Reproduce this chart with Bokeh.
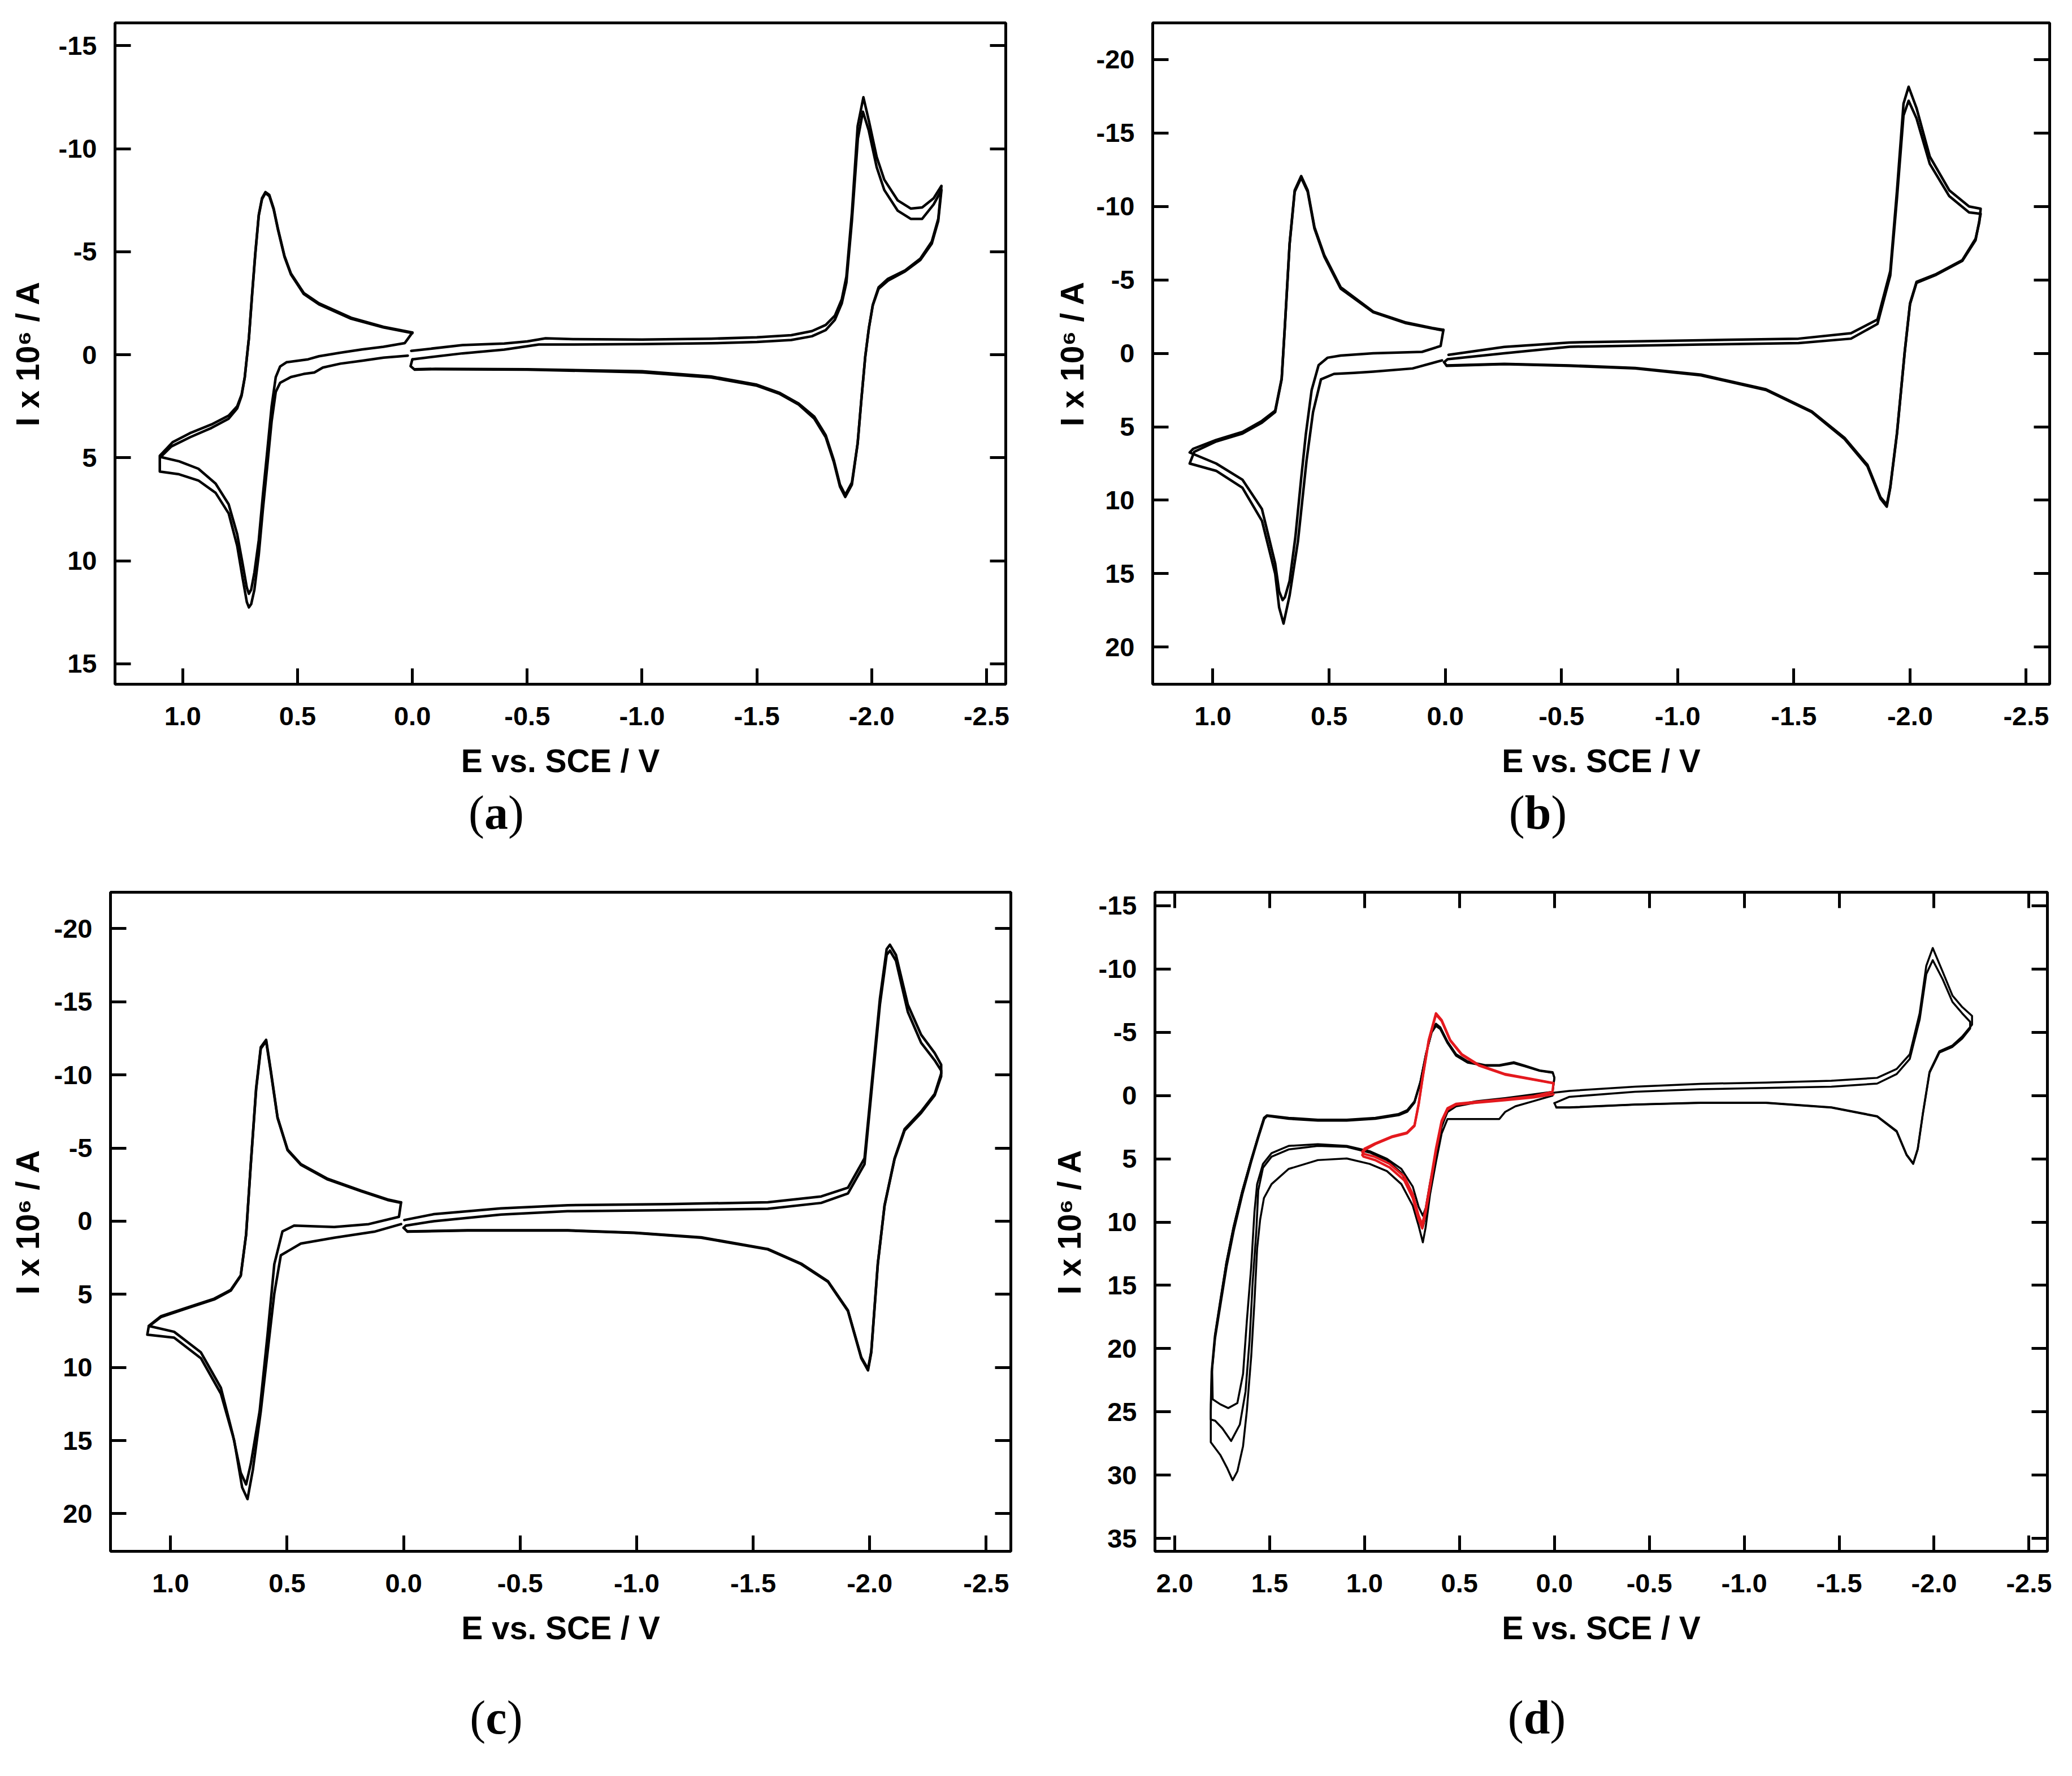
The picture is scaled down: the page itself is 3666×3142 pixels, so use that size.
from bokeh.plotting import figure
from bokeh.models import Range1d, LinearAxis, FixedTicker, NumeralTickFormatter, Div
from bokeh.layouts import column, row
from bokeh.embed import file_html
from bokeh.resources import INLINE

# ---------------- data: (E / V vs SCE, I x 10^6 / A) ----------------
# panel (a)
a_left_c1 = [(0.02, 0.04), (0.126, 0.14), (0.22, 0.29), (0.314, 0.43), (0.39, 0.62), (0.427, 0.86), (0.473, 0.93),
             (0.529, 1.08), (0.576, 1.36), (0.595, 1.8), (0.613, 3.23), (0.632, 5.4), (0.651, 7.5), (0.669, 9.7),
             (0.688, 11.4), (0.702, 12.1), (0.712, 12.26), (0.721, 12.0), (0.74, 10.8), (0.763, 9.27), (0.8, 7.7),
             (0.857, 6.7), (0.932, 6.1), (1.016, 5.8), (1.1, 5.67), (1.1, 4.9), (1.044, 4.24), (0.968, 3.8),
             (0.875, 3.38), (0.8, 2.95), (0.763, 2.5), (0.744, 1.94), (0.73, 1.08), (0.712, -0.8), (0.698, -2.95),
             (0.684, -4.96), (0.669, -6.8), (0.655, -7.6), (0.64, -7.9), (0.623, -7.76), (0.604, -7.1), (0.585, -6.1),
             (0.557, -4.8), (0.529, -3.95), (0.473, -3.0), (0.407, -2.5), (0.267, -1.8), (0.126, -1.36), (0.0, -1.08)]
a_left_c2 = [(0.0, -1.08), (0.033, -0.57), (0.126, -0.39), (0.22, -0.26), (0.314, -0.1), (0.407, 0.07), (0.454, 0.22),
             (0.5, 0.29), (0.548, 0.36), (0.576, 0.57), (0.595, 1.08), (0.613, 2.5), (0.632, 4.67), (0.651, 6.8),
             (0.669, 9.0), (0.688, 10.56), (0.702, 11.4), (0.712, 11.6), (0.721, 11.3), (0.74, 10.1), (0.763, 8.7),
             (0.8, 7.26), (0.857, 6.25), (0.932, 5.53), (1.016, 5.17), (1.096, 4.96), (1.05, 4.45), (0.968, 4.0),
             (0.875, 3.55), (0.8, 3.1), (0.763, 2.6), (0.744, 2.0), (0.73, 1.1), (0.712, -0.8), (0.698, -2.9),
             (0.684, -4.9), (0.669, -6.75), (0.655, -7.55), (0.64, -7.85), (0.623, -7.7), (0.604, -7.05),
             (0.585, -6.05), (0.557, -4.75), (0.529, -3.9), (0.473, -2.95), (0.407, -2.45), (0.267, -1.75),
             (0.126, -1.33), (0.0, -1.05)]
a_right_c1 = [(0.005, -0.19), (-0.218, -0.47), (-0.4, -0.55), (-0.5, -0.65), (-0.58, -0.8), (-0.7, -0.76),
              (-1.0, -0.74), (-1.3, -0.78), (-1.5, -0.85), (-1.65, -0.95), (-1.74, -1.15), (-1.8, -1.45),
              (-1.84, -1.9), (-1.87, -2.7), (-1.89, -3.8), (-1.914, -6.9), (-1.939, -11.1), (-1.964, -12.5),
              (-1.989, -11.3), (-2.022, -9.6), (-2.055, -8.5), (-2.113, -7.5), (-2.17, -7.1), (-2.22, -7.15),
              (-2.27, -7.6), (-2.304, -8.2), (-2.29, -6.6), (-2.262, -5.5), (-2.212, -4.67), (-2.146, -4.1),
              (-2.071, -3.69), (-2.03, -3.27), (-2.005, -2.43), (-1.988, -1.3), (-1.972, 0.1), (-1.955, 2.2),
              (-1.939, 4.3), (-1.914, 6.3), (-1.885, 6.9), (-1.862, 6.4), (-1.835, 5.2), (-1.8, 4.0), (-1.75, 3.1),
              (-1.68, 2.4), (-1.6, 1.9), (-1.5, 1.5), (-1.3, 1.1), (-1.0, 0.85), (-0.5, 0.72), (-0.1, 0.7),
              (-0.01, 0.72), (0.008, 0.55), (0.0, 0.22)]
a_right_c2 = [(0.0, 0.22), (-0.218, -0.07), (-0.4, -0.25), (-0.55, -0.5), (-0.7, -0.5), (-1.0, -0.52),
              (-1.3, -0.56), (-1.5, -0.62), (-1.65, -0.72), (-1.74, -0.9), (-1.8, -1.2), (-1.84, -1.7),
              (-1.87, -2.5), (-1.89, -3.5), (-1.914, -6.5), (-1.94, -10.5), (-1.962, -11.8), (-1.987, -10.9),
              (-2.022, -9.1), (-2.055, -8.0), (-2.113, -7.0), (-2.17, -6.6), (-2.22, -6.6), (-2.27, -7.3),
              (-2.304, -8.0), (-2.29, -6.5), (-2.262, -5.4), (-2.212, -4.6), (-2.146, -4.05), (-2.071, -3.6),
              (-2.03, -3.2), (-2.005, -2.4), (-1.988, -1.3), (-1.972, 0.1), (-1.955, 2.2), (-1.939, 4.3),
              (-1.914, 6.2), (-1.885, 6.8), (-1.862, 6.3), (-1.835, 5.1), (-1.8, 3.9), (-1.75, 3.0), (-1.68, 2.35),
              (-1.6, 1.85), (-1.5, 1.45), (-1.3, 1.05), (-1.0, 0.8), (-0.5, 0.7), (-0.1, 0.68), (-0.01, 0.7)]

# panel (b)
b_left_c1 = [(0.014, 0.48), (0.141, 1.03), (0.31, 1.25), (0.394, 1.33), (0.479, 1.4), (0.535, 1.77), (0.569, 4.0),
             (0.597, 7.3), (0.634, 12.8), (0.67, 16.5), (0.696, 18.4), (0.715, 17.3), (0.732, 15.0), (0.789, 11.4),
             (0.873, 9.15), (0.986, 8.0), (1.1, 7.5), (1.08, 6.7), (0.986, 6.0), (0.873, 5.46), (0.789, 4.72),
             (0.732, 4.0), (0.704, 1.77), (0.69, -1.92), (0.67, -7.45), (0.648, -11.1), (0.62, -12.07),
             (0.592, -11.1), (0.563, -8.6), (0.521, -6.7), (0.45, -4.5), (0.31, -2.84), (0.169, -2.1),
             (0.056, -1.73), (0.008, -1.6)]
b_left_c2 = [(0.008, -1.6), (0.02, -0.5), (0.1, -0.1), (0.31, 0.0), (0.45, 0.15), (0.507, 0.3), (0.545, 0.8),
             (0.575, 2.5), (0.6, 5.5), (0.62, 8.5), (0.645, 12.5), (0.67, 15.5), (0.69, 16.6), (0.70, 16.8),
             (0.715, 16.2), (0.732, 14.3), (0.789, 10.6), (0.873, 8.6), (0.986, 7.5), (1.1, 6.75), (1.085, 6.5),
             (0.986, 5.9), (0.873, 5.35), (0.789, 4.6), (0.732, 3.9), (0.704, 1.7), (0.69, -1.9), (0.67, -7.4),
             (0.648, -11.0), (0.62, -11.95), (0.592, -11.0), (0.563, -8.5), (0.521, -6.6), (0.45, -4.4),
             (0.31, -2.8), (0.169, -2.05), (0.056, -1.7), (0.008, -1.55)]
b_right_c1 = [(-0.014, 0.1), (-0.254, -0.44), (-0.535, -0.74), (-1.1, -0.89), (-1.52, -1.0), (-1.746, -1.37),
              (-1.86, -2.3), (-1.915, -5.6), (-1.944, -11.1), (-1.972, -17.0), (-1.994, -18.15), (-2.028, -16.7),
              (-2.085, -13.4), (-2.169, -11.1), (-2.254, -10.0), (-2.304, -9.85), (-2.298, -8.9), (-2.282, -7.8),
              (-2.225, -6.35), (-2.113, -5.4), (-2.028, -4.87), (-2.0, -3.4), (-1.977, -0.07), (-1.944, 5.46),
              (-1.915, 9.15), (-1.9, 10.44), (-1.873, 9.9), (-1.817, 7.7), (-1.718, 5.83), (-1.577, 4.0),
              (-1.38, 2.5), (-1.1, 1.5), (-0.817, 1.03), (-0.535, 0.85), (-0.254, 0.74), (-0.006, 0.85),
              (0.005, 0.6)]
b_right_c2 = [(0.005, 0.6), (-0.01, 0.4), (-0.254, 0.0), (-0.535, -0.45), (-1.1, -0.6), (-1.52, -0.7),
              (-1.746, -1.0), (-1.86, -2.0), (-1.915, -5.3), (-1.944, -10.6), (-1.972, -16.2), (-1.994, -17.2),
              (-2.028, -16.0), (-2.085, -12.9), (-2.169, -10.7), (-2.254, -9.6), (-2.304, -9.5), (-2.282, -7.7),
              (-2.225, -6.3), (-2.113, -5.35), (-2.028, -4.8), (-2.0, -3.35), (-1.977, -0.05), (-1.944, 5.4),
              (-1.915, 9.1), (-1.9, 10.3), (-1.873, 9.8), (-1.817, 7.6), (-1.718, 5.75), (-1.577, 3.95),
              (-1.38, 2.45), (-1.1, 1.45), (-0.817, 1.0), (-0.535, 0.82), (-0.254, 0.72), (-0.006, 0.82)]

# panel (c)
c_left_c1 = [(0.011, 0.2), (0.126, 0.72), (0.298, 1.13), (0.441, 1.53), (0.527, 2.33), (0.555, 4.95),
             (0.584, 8.97), (0.613, 13.0), (0.647, 17.0), (0.67, 19.0), (0.693, 18.2), (0.727, 15.0),
             (0.784, 11.8), (0.87, 9.37), (0.985, 7.96), (1.1, 7.76), (1.094, 7.2), (1.042, 6.56), (0.928, 5.95),
             (0.813, 5.35), (0.742, 4.75), (0.699, 3.74), (0.676, 0.93), (0.656, -3.9), (0.633, -9.1),
             (0.613, -11.9), (0.59, -12.4), (0.57, -10.3), (0.541, -7.1), (0.498, -4.9), (0.441, -3.9),
             (0.326, -2.9), (0.183, -2.09), (0.069, -1.49), (0.011, -1.29)]
c_left_c2 = [(0.011, -1.29), (0.02, -0.3), (0.15, 0.2), (0.298, 0.4), (0.47, 0.3), (0.52, 0.7), (0.555, 2.94),
             (0.584, 7.76), (0.618, 13.0), (0.656, 16.6), (0.676, 18.0), (0.699, 17.2), (0.733, 14.6),
             (0.784, 11.4), (0.87, 8.97), (0.985, 7.56), (1.094, 7.16), (1.042, 6.5), (0.928, 5.9), (0.813, 5.3),
             (0.742, 4.7), (0.699, 3.7), (0.676, 0.9), (0.656, -3.85), (0.633, -9.0), (0.613, -11.8),
             (0.59, -12.3), (0.57, -10.2), (0.541, -7.05), (0.498, -4.85), (0.441, -3.85), (0.326, -2.85),
             (0.183, -2.05), (0.069, -1.45), (0.011, -1.25)]
c_right_c1 = [(-0.003, -0.08), (-0.13, -0.48), (-0.418, -0.88), (-0.704, -1.09), (-1.134, -1.17),
              (-1.563, -1.29), (-1.792, -1.69), (-1.907, -2.29), (-1.978, -4.3), (-2.007, -9.1), (-2.044, -15.2),
              (-2.073, -18.6), (-2.087, -18.9), (-2.113, -18.2), (-2.164, -14.8), (-2.221, -12.75),
              (-2.279, -11.5), (-2.307, -10.7), (-2.307, -10.1), (-2.279, -8.7), (-2.221, -7.5), (-2.15, -6.3),
              (-2.107, -4.3), (-2.064, -1.09), (-2.035, 2.94), (-2.007, 8.97), (-1.993, 10.2), (-1.964, 9.37),
              (-1.907, 6.15), (-1.821, 4.14), (-1.706, 2.94), (-1.563, 1.93), (-1.277, 1.13), (-0.99, 0.8),
              (-0.704, 0.64), (-0.275, 0.64), (-0.017, 0.72), (0.0, 0.45)]
c_right_c2 = [(0.0, 0.45), (-0.01, 0.3), (-0.13, 0.0), (-0.418, -0.45), (-0.704, -0.68), (-1.134, -0.75),
              (-1.563, -0.85), (-1.792, -1.25), (-1.907, -1.9), (-1.978, -3.9), (-2.007, -8.7), (-2.044, -14.8),
              (-2.073, -18.2), (-2.087, -18.5), (-2.113, -17.8), (-2.164, -14.3), (-2.221, -12.2), (-2.279, -11.0),
              (-2.307, -10.3), (-2.307, -9.9), (-2.279, -8.6), (-2.221, -7.4), (-2.15, -6.2), (-2.107, -4.25),
              (-2.064, -1.05), (-2.035, 2.9), (-2.007, 8.9), (-1.993, 10.1), (-1.964, 9.3), (-1.907, 6.1),
              (-1.821, 4.1), (-1.706, 2.9), (-1.563, 1.9), (-1.277, 1.1), (-0.99, 0.78), (-0.704, 0.62),
              (-0.275, 0.62), (-0.017, 0.7)]

# panel (d), black cycles
d_left_c1 = [(0.01, 0.0), (0.108, 0.43), (0.206, 0.85), (0.26, 1.3), (0.29, 1.85), (0.45, 1.85), (0.563, 1.85),
             (0.594, 3.0), (0.624, 5.26), (0.655, 7.8), (0.678, 10.4), (0.693, 11.6), (0.715, 10.3), (0.746, 8.7),
             (0.806, 7.0), (0.882, 5.97), (0.973, 5.4), (1.094, 4.97), (1.246, 5.1), (1.40, 5.8), (1.49, 7.0),
             (1.53, 8.1), (1.55, 9.8), (1.566, 12.1), (1.58, 16.3), (1.597, 20.6), (1.62, 24.9), (1.64, 27.7),
             (1.67, 29.7), (1.695, 30.4), (1.725, 29.4), (1.76, 28.4), (1.81, 27.4), (1.81, 25.0), (1.805, 22.0),
             (1.787, 19.2), (1.756, 16.3), (1.726, 13.5), (1.688, 10.65), (1.643, 7.8), (1.597, 5.26),
             (1.558, 3.27), (1.528, 1.85), (1.513, 1.62), (1.40, 1.85), (1.246, 1.99), (1.094, 1.99),
             (0.943, 1.85), (0.82, 1.56), (0.775, 1.28), (0.737, 0.57), (0.706, -1.0), (0.676, -3.27),
             (0.646, -5.1), (0.624, -5.68), (0.601, -5.4), (0.563, -4.26), (0.518, -3.27), (0.457, -2.7),
             (0.366, -2.41), (0.29, -2.41), (0.214, -2.64), (0.153, -2.36), (0.077, -1.99), (0.009, -1.85),
             (0.0, -1.42)]
d_left_c2 = [(0.0, -1.42), (0.01, -0.3), (0.108, -0.1), (0.26, 0.2), (0.412, 0.45), (0.518, 0.75), (0.563, 1.2),
             (0.594, 2.5), (0.624, 4.9), (0.655, 7.3), (0.678, 9.5), (0.693, 10.4), (0.715, 9.6), (0.746, 7.8),
             (0.806, 6.1), (0.882, 5.1), (0.973, 4.5), (1.094, 4.06), (1.246, 3.98), (1.40, 4.26), (1.49, 4.83),
             (1.535, 5.7), (1.56, 7.5), (1.57, 10.65), (1.59, 14.9), (1.605, 19.2), (1.627, 23.4), (1.657, 26.0),
             (1.703, 27.3), (1.749, 26.3), (1.787, 25.7), (1.81, 25.6), (1.81, 24.4), (1.806, 21.8),
             (1.789, 19.0), (1.759, 16.1), (1.729, 13.3), (1.692, 10.5), (1.647, 7.7), (1.60, 5.2), (1.56, 3.2),
             (1.53, 1.8), (1.515, 1.6), (1.40, 1.8), (1.246, 1.95), (1.094, 1.95), (0.943, 1.8), (0.82, 1.5),
             (0.775, 1.2), (0.737, 0.5), (0.706, -1.05), (0.676, -3.3), (0.646, -5.1), (0.624, -5.65),
             (0.601, -5.35), (0.563, -4.2), (0.518, -3.2), (0.457, -2.65), (0.366, -2.38), (0.29, -2.38),
             (0.214, -2.6), (0.153, -2.33), (0.077, -1.97), (0.009, -1.82), (0.0, -1.4)]
d_left_c3 = [(0.0, -1.4), (0.01, -0.2), (0.108, -0.05), (0.26, 0.3), (0.412, 0.55), (0.518, 0.85), (0.563, 1.3),
             (0.594, 2.4), (0.624, 4.6), (0.655, 6.9), (0.678, 8.9), (0.693, 9.5), (0.715, 8.8), (0.746, 7.2),
             (0.806, 5.8), (0.882, 5.0), (0.973, 4.4), (1.094, 3.98), (1.246, 3.84), (1.40, 3.98), (1.49, 4.55),
             (1.535, 5.4), (1.566, 7.0), (1.58, 9.2), (1.597, 13.5), (1.62, 17.8), (1.64, 22.0), (1.67, 24.3),
             (1.718, 24.7), (1.76, 24.4), (1.80, 24.0), (1.803, 21.6), (1.786, 18.8), (1.757, 16.0),
             (1.728, 13.2), (1.69, 10.4), (1.645, 7.6), (1.598, 5.1), (1.558, 3.1), (1.53, 1.75), (1.514, 1.55),
             (1.40, 1.75), (1.246, 1.9), (1.094, 1.9), (0.943, 1.75), (0.82, 1.45), (0.775, 1.15), (0.737, 0.45),
             (0.706, -1.1), (0.676, -3.35), (0.646, -5.0), (0.624, -5.5), (0.601, -5.25), (0.563, -4.15),
             (0.518, -3.15), (0.457, -2.6), (0.366, -2.35), (0.29, -2.35), (0.214, -2.55), (0.153, -2.3),
             (0.077, -1.95), (0.009, -1.8)]
d_right_c1 = [(0.0, -0.23), (-0.079, -0.37), (-0.424, -0.7), (-0.769, -0.93), (-1.114, -1.03), (-1.459, -1.17),
              (-1.7, -1.4), (-1.803, -2.1), (-1.872, -3.26), (-1.924, -6.5), (-1.959, -10.26), (-1.993, -11.66),
              (-2.045, -9.8), (-2.097, -7.9), (-2.148, -7.0), (-2.2, -6.3), (-2.2, -5.6), (-2.148, -4.66),
              (-2.097, -3.96), (-2.028, -3.5), (-1.976, -1.87), (-1.941, 1.4), (-1.914, 4.2), (-1.89, 5.36),
              (-1.855, 4.66), (-1.803, 2.8), (-1.7, 1.63), (-1.459, 0.93), (-1.114, 0.56), (-0.769, 0.56),
              (-0.424, 0.7), (-0.079, 0.93), (-0.01, 0.93), (0.0, 0.6)]
d_right_c2 = [(0.0, 0.6), (-0.079, 0.1), (-0.424, -0.3), (-0.769, -0.5), (-1.114, -0.6), (-1.459, -0.7),
              (-1.7, -0.95), (-1.803, -1.7), (-1.872, -2.9), (-1.924, -6.0), (-1.959, -9.6), (-1.993, -10.7),
              (-2.045, -9.2), (-2.097, -7.4), (-2.148, -6.5), (-2.19, -5.83), (-2.19, -5.3), (-2.148, -4.5),
              (-2.097, -3.85), (-2.028, -3.4), (-1.976, -1.8), (-1.941, 1.45), (-1.914, 4.25), (-1.89, 5.4),
              (-1.855, 4.7), (-1.803, 2.85), (-1.7, 1.66), (-1.459, 0.95), (-1.114, 0.58), (-0.769, 0.58),
              (-0.424, 0.72), (-0.079, 0.95), (-0.01, 0.95)]
# panel (d), red cycles (0 to +1.0 V only)
d_red_c1 = [(0.005, -0.1), (0.108, 0.14), (0.26, 0.37), (0.412, 0.57), (0.518, 0.71), (0.563, 1.1), (0.594, 2.13),
            (0.624, 4.4), (0.655, 7.24), (0.678, 9.23), (0.696, 10.5), (0.715, 9.8), (0.746, 8.1), (0.791, 6.7),
            (0.868, 5.68), (0.944, 5.1), (1.005, 4.83), (1.012, 4.7), (1.0, 4.3), (0.944, 3.84), (0.853, 3.27),
            (0.777, 2.98), (0.737, 2.4), (0.715, 0.7), (0.693, -1.56), (0.662, -4.4), (0.624, -6.5),
            (0.594, -5.97), (0.549, -4.4), (0.488, -3.27), (0.397, -2.41), (0.26, -1.7), (0.108, -1.28),
            (0.005, -0.99)]
d_red_c2 = [(0.005, -0.99), (0.01, -0.3), (0.108, 0.05), (0.26, 0.3), (0.412, 0.5), (0.518, 0.65), (0.563, 1.0),
            (0.594, 2.0), (0.624, 4.2), (0.655, 7.0), (0.678, 9.0), (0.696, 10.2), (0.715, 9.5), (0.746, 7.8),
            (0.791, 6.4), (0.868, 5.4), (0.944, 4.85), (1.005, 4.6), (1.012, 4.45), (1.0, 4.2), (0.944, 3.78),
            (0.853, 3.22), (0.777, 2.93), (0.737, 2.35), (0.715, 0.65), (0.693, -1.5), (0.662, -4.3),
            (0.624, -6.4), (0.594, -5.9), (0.549, -4.35), (0.488, -3.22), (0.397, -2.37), (0.26, -1.66),
            (0.108, -1.25), (0.005, -0.97)]

# axes
x_ticks_abc = [1.0, 0.5, 0.0, -0.5, -1.0, -1.5, -2.0, -2.5]
x_ticks_d = [2.0, 1.5, 1.0, 0.5, 0.0, -0.5, -1.0, -1.5, -2.0, -2.5]
y_ticks_a = [-15, -10, -5, 0, 5, 10, 15]
y_ticks_bc = [-20, -15, -10, -5, 0, 5, 10, 15, 20]
y_ticks_d = [-15, -10, -5, 0, 5, 10, 15, 20, 25, 30, 35]
x_label = "E vs. SCE / V"
y_label = "I x 10\u2076 / A"
panel_letters = ["a", "b", "c", "d"]

FONT = "Liberation Sans"
SERIF = "Liberation Serif"


def unzip(pts):
    return [p[0] for p in pts], [p[1] for p in pts]


def make_panel(w, h, bl, br, bt, bb, xr, yr, xt, yt, ylab_standoff, top_ticks):
    p = figure(width=w, height=h, x_range=Range1d(*xr), y_range=Range1d(*yr), title=None,
               output_backend="svg", toolbar_location=None,
               min_border_left=bl, min_border_right=br, min_border_top=bt, min_border_bottom=bb,
               x_axis_label=x_label, y_axis_label=y_label)
    p.grid.visible = False
    p.outline_line_color = "black"
    p.outline_line_width = 5
    p.background_fill_color = "white"
    p.border_fill_color = "white"
    xa, ya = p.xaxis[0], p.yaxis[0]
    xa.ticker = FixedTicker(ticks=xt)
    ya.ticker = FixedTicker(ticks=yt)
    xa.formatter = NumeralTickFormatter(format="0.0")
    ya.formatter = NumeralTickFormatter(format="0")
    for ax in (xa, ya):
        ax.axis_line_color = None
        ax.major_tick_in = 28
        ax.major_tick_out = 0
        ax.major_tick_line_width = 5
        ax.major_tick_line_color = "black"
        ax.minor_tick_line_color = None
        ax.major_label_text_font = FONT
        ax.major_label_text_font_style = "bold"
        ax.major_label_text_font_size = "47px"
        ax.major_label_text_color = "black"
        ax.axis_label_text_font = FONT
        ax.axis_label_text_font_style = "bold"
        ax.axis_label_text_font_size = "57px"
        ax.axis_label_text_color = "black"
    xa.major_label_standoff = 40
    xa.axis_label_standoff = 28
    ya.major_label_standoff = 32
    ya.axis_label_standoff = ylab_standoff
    sides = [("right", yt)]
    if top_ticks:
        sides.append(("above", xt))
    for side, tk in sides:
        ax = LinearAxis(ticker=FixedTicker(ticks=tk), axis_line_color=None, major_tick_in=28, major_tick_out=0,
                        major_tick_line_width=5, minor_tick_line_color=None, major_label_text_font_size="1px",
                        major_label_text_color=None, major_label_standoff=0)
        p.add_layout(ax, side)
    return p


def draw(p, curves, color, width):
    for pts in curves:
        xs, ys = unzip(pts)
        p.line(xs, ys, line_color=color, line_width=width, line_join="round", line_cap="round")


def letter_div(letter, w, h, cx, cy):
    html = ('<div style="position:relative;width:%dpx;height:%dpx;">'
            '<span style="position:absolute;left:%dpx;top:%dpx;transform:translate(-50%%,-50%%);'
            'font-family:\'%s\';font-size:84px;line-height:1;white-space:nowrap;color:black;">'
            '(<b>%s</b>)</span></div>') % (w, h, cx, cy, SERIF, letter)
    return Div(text=html, width=w, height=h, margin=0)


WL, WR = 1841, 1817
HT, HL1, HB, HL2 = 1400, 163, 1420, 151

pa = make_panel(WL, HT, 203, 62, 40, 190, (1.295, -2.584), (15.99, -16.11), x_ticks_abc, y_ticks_a, 20, False)
draw(pa, [a_left_c1, a_left_c2, a_right_c1, a_right_c2], "black", 4.5)

pb = make_panel(WR, HT, 198, 32, 40, 190, (1.259, -2.601), (22.53, -22.5), x_ticks_abc, y_ticks_bc, 8, False)
draw(pb, [b_left_c1, b_left_c2, b_right_c1, b_right_c2], "black", 4.5)

pc = make_panel(WL, HB, 195, 53, 8, 239, (1.258, -2.606), (22.57, -22.49), x_ticks_abc, y_ticks_bc, 12, False)
draw(pc, [c_left_c1, c_left_c2, c_right_c1, c_right_c2], "black", 4.5)

pd = make_panel(WR, HB, 202, 36, 15, 235, (2.104, -2.597), (36.02, -16.07), x_ticks_d, y_ticks_d, 17, True)
draw(pd, [d_left_c1, d_left_c2, d_left_c3, d_right_c1, d_right_c2], "black", 3.5)
draw(pd, [d_red_c1, d_red_c2], "#e4191e", 4.2)

la = letter_div(panel_letters[0], WL, HL1, 878, 38)
lb = letter_div(panel_letters[1], WR, HL1, 880, 38)
lc = letter_div(panel_letters[2], WL, HL2, 878, 56)
ld = letter_div(panel_letters[3], WR, HL2, 878, 56)

layout = column(row(pa, pb), row(la, lb), row(pc, pd), row(lc, ld))
open("out.html", "w").write(file_html(layout, INLINE))
